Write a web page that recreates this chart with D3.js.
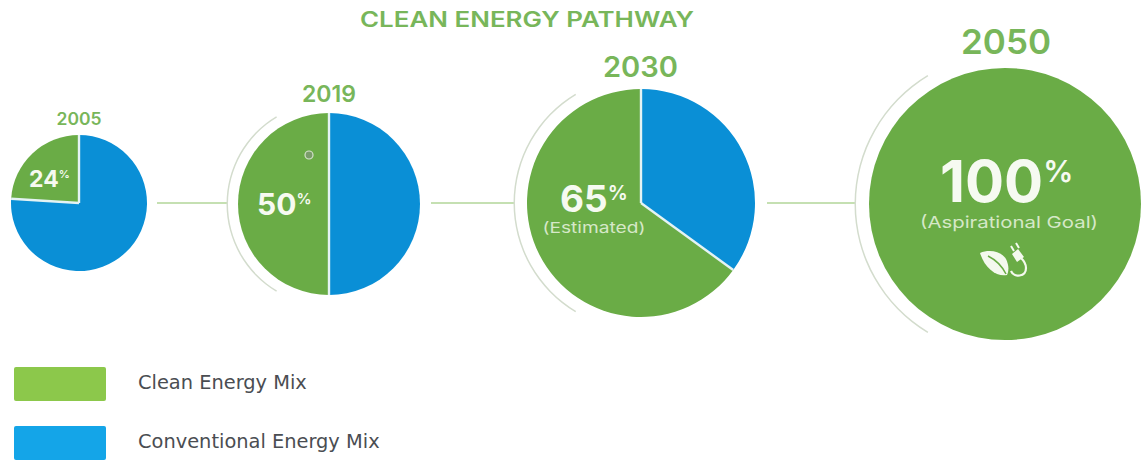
<!DOCTYPE html>
<html>
<head>
<meta charset="utf-8">
<style>
  html, body { margin: 0; padding: 0; background: #fff; }
  svg { display: block; }
  text { font-family: Inter, "Open Sans", sans-serif; }
</style>
<script src="https://cdn.jsdelivr.net/npm/d3@7"></script>
</head>
<body>
<svg id="chart" width="1143" height="460"></svg>
<script>
const years = ["2005", "2019", "2030", "2050"];
const cleanShare = [24, 50, 65, 100];
const conventionalShare = [76, 50, 35, 0];
const notes = ["", "", "(Estimated)", "(Aspirational Goal)"];
const legendLabels = ["Clean Energy Mix", "Conventional Energy Mix"];
const titleText = "CLEAN ENERGY PATHWAY";

const GREEN = "#6aac46", BLUE = "#0a8fd6", TITLE = "#78b65a";
const CONNECTOR = "#c5e0b2", HALO = "#d3dccd";

// Layout of each pie: centre, radius and the text placed over it
const layout = [
  { cx: 79,   cy: 203, r: 68,  yearX: 79,   yearY: 125, yearSize: 17,   yearW: 45, numX: 29,  numY: 187, numSize: 23, pctSize: 11, halo: 0 },
  { cx: 329,  cy: 204, r: 91,  yearX: 329,  yearY: 102, yearSize: 23,   yearW: 54, numX: 257, numY: 215, numSize: 30, pctSize: 15, halo: 101 },
  { cx: 641,  cy: 203, r: 114, yearX: 640.5, yearY: 77, yearSize: 28,   yearW: 75, numX: 560, numY: 212, numSize: 37, pctSize: 20, halo: 126, noteX: 594, noteY: 233, noteSize: 15, noteW: 103 },
  { cx: 1005, cy: 204, r: 136, yearX: 1006, yearY: 54,  yearSize: 34,   yearW: 90, numX: 940, numY: 202, numSize: 58, pctSize: 30, halo: 149, noteX: 1009, noteY: 228, noteSize: 16.5, noteW: 178 }
];

const svg = d3.select("#chart");

svg.append("text")
  .attr("x", 527).attr("y", 27)
  .attr("text-anchor", "middle")
  .attr("font-size", 21).attr("font-weight", 600)
  .attr("textLength", 334).attr("lengthAdjust", "spacingAndGlyphs")
  .attr("fill", TITLE)
  .text(titleText);

// Connectors between consecutive pies, ending on the next pie's halo arc
const connectorStarts = [157, 431, 767];
svg.append("g").selectAll("line")
  .data(connectorStarts)
  .join("line")
  .attr("x1", d => d)
  .attr("x2", (d, i) => layout[i + 1].cx - layout[i + 1].halo)
  .attr("y1", 203).attr("y2", 203)
  .attr("stroke", CONNECTOR).attr("stroke-width", 2);

const pie = d3.pie().sort(null).value(d => d.value);
const haloAngle = 31 * Math.PI / 180;

years.forEach((year, i) => {
  const l = layout[i];
  const g = svg.append("g").attr("transform", `translate(${l.cx},${l.cy})`);

  // Conventional share runs clockwise from twelve o'clock, clean share closes the circle
  const slices = pie([
    { key: "conventional", value: conventionalShare[i], color: BLUE },
    { key: "clean", value: cleanShare[i], color: GREEN }
  ]).filter(d => d.data.value > 0);

  const arc = d3.arc().innerRadius(0).outerRadius(l.r);
  g.selectAll("path.slice")
    .data(slices)
    .join("path")
    .attr("class", "slice")
    .attr("d", arc)
    .attr("fill", d => d.data.color);

  // Pale seams where the two shares meet
  if (slices.length > 1) {
    const seams = [0, slices[0].endAngle];
    g.selectAll("line.seam")
      .data(seams)
      .join("line")
      .attr("class", "seam")
      .attr("x1", 0).attr("y1", 0)
      .attr("x2", a => l.r * Math.sin(a))
      .attr("y2", a => -l.r * Math.cos(a))
      .attr("stroke", "#e4f3f4").attr("stroke-width", 2.4);
  }

  // Thin arc hugging the left side of the pie
  if (l.halo) {
    g.append("path")
      .attr("d", d3.arc()({
        innerRadius: l.halo, outerRadius: l.halo + 1.5,
        startAngle: -Math.PI + haloAngle, endAngle: -haloAngle
      }))
      .attr("fill", HALO);
  }

  svg.append("text")
    .attr("x", l.yearX).attr("y", l.yearY)
    .attr("text-anchor", "middle")
    .attr("font-size", l.yearSize).attr("font-weight", 600)
    .attr("textLength", l.yearW).attr("lengthAdjust", "spacingAndGlyphs")
    .attr("fill", TITLE)
    .text(year);

  const label = svg.append("text")
    .attr("x", l.numX).attr("y", l.numY)
    .attr("font-weight", 700).attr("fill", "#f6faf1");
  label.append("tspan").attr("font-size", l.numSize).text(cleanShare[i]);
  label.append("tspan")
    .attr("font-size", l.pctSize).attr("font-weight", 600)
    .attr("dy", -(l.numSize - l.pctSize) * 0.72)
    .text("%");

  if (notes[i]) {
    svg.append("text")
      .attr("x", l.noteX).attr("y", l.noteY)
      .attr("text-anchor", "middle")
      .attr("font-size", l.noteSize)
      .attr("textLength", l.noteW).attr("lengthAdjust", "spacingAndGlyphs")
      .attr("fill", "#d6e8c8")
      .text(notes[i]);
  }
});

// Small ring sitting on the clean share of the 2019 pie
svg.append("circle")
  .attr("cx", 309).attr("cy", 155).attr("r", 4)
  .attr("fill", "#7a9c6a").attr("stroke", "#d5e2cc").attr("stroke-width", 1.2);

// Leaf and plug emblem under the 2050 goal
const emblem = svg.append("g").attr("transform", "translate(1005,263)");
emblem.append("path")
  .attr("d", "M-25,-10 C-16,-14 -4,-12 1,-4 C4,2 4,8 2,12 C-8,14 -20,6 -25,-10 Z")
  .attr("fill", "#f4f9ee");
emblem.append("path")
  .attr("d", "M-17,-7 C-9,-3 -3,3 1,11")
  .attr("fill", "none").attr("stroke", GREEN).attr("stroke-width", 1.5);
emblem.append("path")
  .attr("d", "M6,8 C9,15 21,14 21,5 C21,-1 17,-4 15,-6")
  .attr("fill", "none").attr("stroke", "#f4f9ee").attr("stroke-width", 2.2);
emblem.append("path")
  .attr("d", "M7,-9 L13,-14 L19,-6 L12,-1 Z")
  .attr("fill", "#f4f9ee");
emblem.append("path")
  .attr("d", "M9,-12 L6,-17 M14,-15 L11,-20")
  .attr("fill", "none").attr("stroke", "#f4f9ee").attr("stroke-width", 2);

// Legend
const legendColors = ["#8cc84b", "#14a5e8"];
const legendY = [367, 426];
const legend = svg.append("g").selectAll("g")
  .data(legendLabels)
  .join("g")
  .attr("transform", (d, i) => `translate(14,${legendY[i]})`);
legend.append("rect")
  .attr("width", 92).attr("height", 34).attr("rx", 2)
  .attr("fill", (d, i) => legendColors[i]);
legend.append("text")
  .attr("x", 124).attr("y", 22)
  .attr("font-size", 19.4)
  .attr("fill", "#4a4d52")
  .style("font-family", '"DejaVu Sans", sans-serif')
  .text(d => d);
</script>
</body>
</html>
